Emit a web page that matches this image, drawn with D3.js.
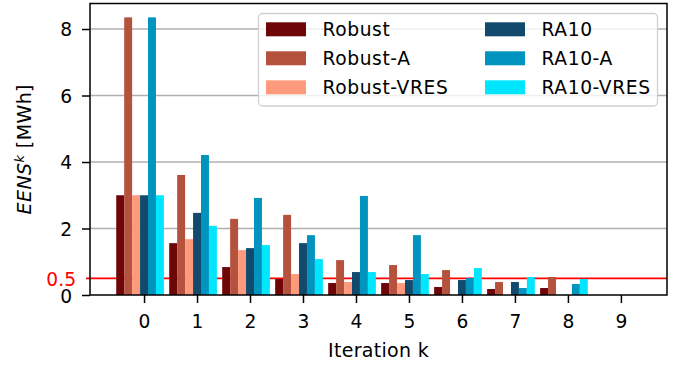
<!DOCTYPE html>
<html>
<head>
<meta charset="utf-8">
<script src="https://cdn.jsdelivr.net/npm/d3@7"></script>
<style>
  body { margin: 0; background: #fff; }
  svg { display: block; font-family: "DejaVu Sans", sans-serif; }
</style>
</head>
<body>
<svg id="chart" width="678" height="366"></svg>
<script>
const iterations = [0, 1, 2, 3, 4, 5, 6, 7, 8, 9];
const seriesNames = ['Robust', 'Robust-A', 'Robust-VRES', 'RA10', 'RA10-A', 'RA10-VRES'];
const seriesColors = ['#6e0608', '#b5523e', '#fe9a7c', '#124a6e', '#0094be', '#00e6ff'];

const robust     = [3.00, 1.56, 0.84, 0.48, 0.36, 0.36, 0.24, 0.18, 0.21, 0];
const robustA    = [8.35, 3.61, 2.29, 2.41, 1.05, 0.90, 0.75, 0.39, 0.54, 0];
const robustVRES = [3.00, 1.68, 1.35, 0.63, 0.39, 0.36, 0, 0, 0, 0];
const ra10       = [3.00, 2.47, 1.41, 1.56, 0.69, 0.45, 0.45, 0.39, 0, 0];
const ra10A      = [8.35, 4.21, 2.92, 1.80, 2.98, 1.80, 0.51, 0.21, 0.33, 0];
const ra10VRES   = [3.00, 2.08, 1.50, 1.08, 0.69, 0.63, 0.81, 0.54, 0.48, 0];

const yTicks = [0, 2, 4, 6, 8];
const threshold = 0.5;

const allSeries = [robust, robustA, robustVRES, ra10, ra10A, ra10VRES];
const barWidth = 0.15;

const margin = { top: 3.5, right: 11, bottom: 71, left: 90 };
const width = 678, height = 366;
const fontSize = '18.67px';

const svg = d3.select('#chart');

const x = d3.scaleLinear()
    .domain([-0.525 - 0.495, 9.375 + 0.495])
    .range([margin.left, width - margin.right]);

const yMax = d3.max(allSeries.flat()) * 1.05;
const y = d3.scaleLinear()
    .domain([0, yMax])
    .range([height - margin.bottom, margin.top]);

// grid
svg.append('g')
    .selectAll('line')
    .data(yTicks.filter((d) => d > 0))
    .enter()
    .append('line')
    .attr('x1', margin.left)
    .attr('x2', width - margin.right)
    .attr('y1', (d) => y(d))
    .attr('y2', (d) => y(d))
    .attr('stroke', '#b0b0b0')
    .attr('stroke-width', 1.6);

// threshold line
svg.append('line')
    .attr('x1', margin.left - 4)
    .attr('x2', width - margin.right)
    .attr('y1', y(threshold))
    .attr('y2', y(threshold))
    .attr('stroke', '#ff0000')
    .attr('stroke-width', 1.8);

// bars
allSeries.forEach((values, i) => {
    svg.append('g')
        .attr('fill', seriesColors[i])
        .selectAll('rect')
        .data(values)
        .enter()
        .append('rect')
        .attr('x', (d, k) => x(iterations[k] + (i - 3) * barWidth - barWidth / 2))
        .attr('y', (d) => y(d))
        .attr('width', x(barWidth) - x(0))
        .attr('height', (d) => y(0) - y(d));
});

// axes
const xAxis = svg.append('g')
    .attr('transform', `translate(0,${height - margin.bottom})`)
    .call(d3.axisBottom(x).tickValues(iterations).tickFormat(d3.format('d')).tickSize(8).tickPadding(12).tickSizeOuter(0));

const yAxis = svg.append('g')
    .attr('transform', `translate(${margin.left},0)`)
    .call(d3.axisLeft(y).tickValues(yTicks).tickSize(8).tickPadding(10).tickSizeOuter(0));

[xAxis, yAxis].forEach((g) => {
    g.select('.domain').remove();
    g.selectAll('.tick line').attr('stroke', '#000').attr('stroke-width', 1.5);
    g.selectAll('.tick text').attr('fill', '#000').style('font-size', fontSize).style('font-family', 'DejaVu Sans');
});
yAxis.selectAll('.tick text').attr('dy', (d) => (d === 0 ? '0.42em' : '0.36em'));

// threshold label
svg.append('text')
    .attr('x', 76)
    .attr('y', y(threshold))
    .attr('dy', 7.5)
    .attr('text-anchor', 'end')
    .attr('fill', '#ff0000')
    .style('font-size', fontSize)
    .text('0.5');

// frame
svg.append('rect')
    .attr('x', margin.left)
    .attr('y', margin.top)
    .attr('width', width - margin.left - margin.right)
    .attr('height', height - margin.top - margin.bottom)
    .attr('fill', 'none')
    .attr('stroke', '#000')
    .attr('stroke-width', 1.5);

// axis labels
svg.append('text')
    .attr('x', (margin.left + width - margin.right) / 2)
    .attr('y', 356.7)
    .attr('text-anchor', 'middle')
    .style('font-size', '19px')
    .style('letter-spacing', '0.3px')
    .text('Iteration k');

const yLabel = svg.append('text')
    .attr('transform', `translate(31,${(margin.top + height - margin.bottom) / 2}) rotate(-90)`)
    .attr('text-anchor', 'middle')
    .style('font-size', '19px')
    .style('letter-spacing', '0.4px');
yLabel.append('tspan').style('font-style', 'italic').text('EENS');
yLabel.append('tspan').style('font-style', 'italic').style('font-size', '13px').attr('dy', '-7').text('k');
yLabel.append('tspan').attr('dy', '7').text(' [MWh]');

// legend
const legend = svg.append('g');
legend.append('rect')
    .attr('x', 258.5)
    .attr('y', 13.5)
    .attr('width', 399)
    .attr('height', 92.5)
    .attr('rx', 4)
    .attr('fill', '#fff')
    .attr('fill-opacity', 0.8)
    .attr('stroke', '#d0d0d0')
    .attr('stroke-width', 1.3);

const legendItems = legend.selectAll('g.item')
    .data(seriesNames)
    .enter()
    .append('g')
    .attr('class', 'item')
    .attr('transform', (d, i) => `translate(${i < 3 ? 266 : 485},${29.3 + (i % 3) * 29})`);

legendItems.append('rect')
    .attr('x', 0)
    .attr('y', -7)
    .attr('width', 40)
    .attr('height', 14)
    .attr('fill', (d, i) => seriesColors[i]);

legendItems.append('text')
    .attr('x', 56.5)
    .attr('dy', '0.36em')
    .style('font-size', fontSize)
    .style('letter-spacing', '0.6px')
    .text((d) => d);
</script>
</body>
</html>
